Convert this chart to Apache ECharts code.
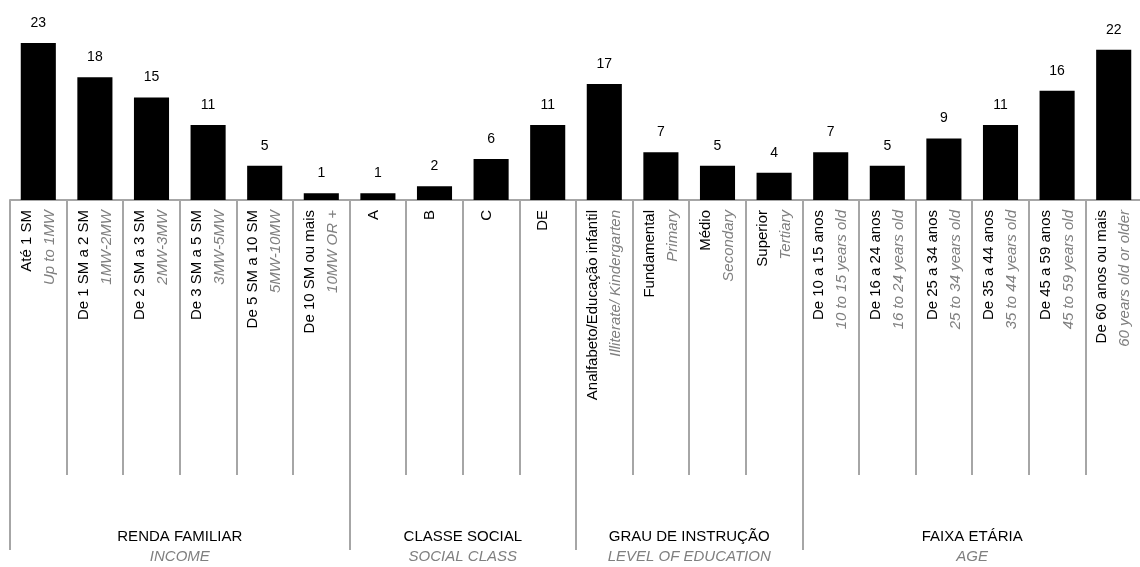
<!DOCTYPE html>
<html>
<head>
<meta charset="utf-8">
<script src="https://cdn.jsdelivr.net/npm/echarts@6/dist/echarts.min.js"></script>
<style>
html,body{margin:0;padding:0;background:#fff;overflow:hidden;width:1140px;height:567px;}
#chart{width:1160px;height:567px;}
</style>
</head>
<body>
<div id="chart"></div>
<script>
// categorias (português / inglês)
var labelsPt = ['Até 1 SM','De 1 SM a 2 SM','De 2 SM a 3 SM','De 3 SM a 5 SM','De 5 SM a 10 SM','De 10 SM ou mais',
	'A','B','C','DE',
	'Analfabeto/Educação infantil','Fundamental','Médio','Superior',
	'De 10 a 15 anos','De 16 a 24 anos','De 25 a 34 anos','De 35 a 44 anos','De 45 a 59 anos','De 60 anos ou mais'];
var labelsEn = ['Up to 1MW','1MW-2MW','2MW-3MW','3MW-5MW','5MW-10MW','10MW OR +',
	'','','','',
	'Illiterate/ Kindergarten','Primary','Secondary','Tertiary',
	'10 to 15 years old','16 to 24 years old','25 to 34 years old','35 to 44 years old','45 to 59 years old','60 years old or older'];
var values = [23,18,15,11,5,1, 1,2,6,11, 17,7,5,4, 7,5,9,11,16,22];
// grupos
var groupsPt = ['RENDA FAMILIAR','CLASSE SOCIAL','GRAU DE INSTRUÇÃO','FAIXA ETÁRIA'];
var groupsEn = ['INCOME','SOCIAL CLASS','LEVEL OF EDUCATION','AGE'];
var groupStart = [0,6,10,14];

var lineColor = '#a6a6a6';
var grayText = '#7f7f7f';
var font = '"Liberation Sans", Arial, sans-serif';

var myChart = echarts.init(document.getElementById('chart'));
var option = {
	animation:false,
	grid:{left:10,right:18,top:43,bottom:367,containLabel:false},
	xAxis:[{
		type:'category',
		data:labelsPt,
		axisLine:{lineStyle:{color:lineColor,width:2}},
		axisTick:{show:true,interval:0,length:275,lineStyle:{color:lineColor,width:2}},
		axisLabel:{
			interval:0,
			rotate:90,
			margin:10,
			fontFamily:font,
			formatter:function(value,index){
				if(labelsEn[index]){
					return '{a|'+value+'}\n{b|'+labelsEn[index]+'}';
				}
				return '{a|'+value+'}\n{e| }';
			},
			rich:{
				a:{color:'#000',fontSize:15,lineHeight:23,fontFamily:font},
				b:{color:grayText,fontSize:15,lineHeight:23,fontStyle:'italic',fontFamily:font},
				e:{fontSize:8,lineHeight:9}
			}
		}
	},{
		//linhas separando os grupos
		type:'category',
		data:labelsPt,
		position:'bottom',
		axisLine:{show:false},
		axisLabel:{show:false},
		axisTick:{
			show:true,
			length:350,
			interval:function(index){ return groupStart.indexOf(index) >= 0; },
			lineStyle:{color:lineColor,width:2}
		}
	}],
	yAxis:{type:'value',min:0,max:23,show:false},
	series:[{
		type:'bar',
		data:values,
		barWidth:'62%',
		itemStyle:{color:'#000'},
		label:{show:true,position:'top',distance:13,color:'#000',fontSize:14,fontFamily:font}
	}]
};
myChart.setOption(option);

// rótulos dos grupos
var graphics = [];
for(var g = 0; g < groupStart.length; g++){
	var first = groupStart[g];
	var last = (g + 1 < groupStart.length ? groupStart[g+1] : labelsPt.length) - 1;
	var x1 = myChart.convertToPixel({xAxisIndex:0}, labelsPt[first]);
	var x2 = myChart.convertToPixel({xAxisIndex:0}, labelsPt[last]);
	var cx = (x1 + x2) / 2;
	graphics.push({
		type:'text', x:cx, y:537,
		style:{text:groupsPt[g], fill:'#000', font:'15px '+font, align:'center', verticalAlign:'middle', textAlign:'center', textVerticalAlign:'middle'}
	});
	graphics.push({
		type:'text', x:cx, y:557,
		style:{text:groupsEn[g], fill:grayText, font:'italic 15px '+font, align:'center', verticalAlign:'middle', textAlign:'center', textVerticalAlign:'middle'}
	});
}
myChart.setOption({graphic:graphics});
</script>
</body>
</html>
